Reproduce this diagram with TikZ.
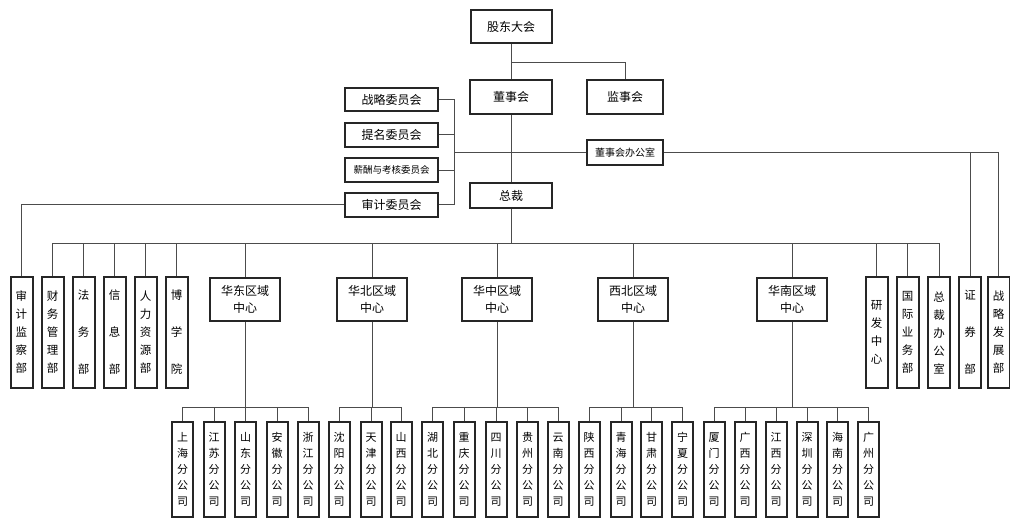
\documentclass[tikz,border=0pt]{standalone}
\usepackage{fontspec}
\newfontfamily\cjk{Noto Sans CJK SC}
\begin{document}
\begin{tikzpicture}[x=1pt,y=-1pt,
  box/.style={draw=black!85,line width=2pt,fill=white,inner sep=0pt,align=center,font=\cjk\fontsize{12}{15}\selectfont},
  vbox/.style={box,minimum width=22pt,minimum height=111pt,font=\cjk\fontsize{11.5}{18}\selectfont},
  vboxw/.style={vbox,font=\cjk\fontsize{11.5}{37}\selectfont},
  bbox/.style={box,minimum width=21pt,minimum height=95pt,font=\cjk\fontsize{11}{16}\selectfont},
  rbox/.style={box,minimum width=70pt,minimum height=43pt,font=\cjk\fontsize{12}{17}\selectfont},
  ln/.style={draw=black!70,line width=0.9pt}]
\useasboundingbox (0,0) rectangle (1010,519);
% top
\node[box,minimum width=81pt,minimum height=33pt] (gd) at (511,27) {股东大会};
\node[box,minimum width=82pt,minimum height=34pt] (dsh) at (511,97) {董事会};
\node[box,minimum width=76pt,minimum height=34pt] (jsh) at (625,97) {监事会};
\node[box,minimum width=93pt,minimum height=23pt] (zl) at (391.5,99.5) {战略委员会};
\node[box,minimum width=93pt,minimum height=24pt] (tm) at (391.5,134.5) {提名委员会};
\node[box,minimum width=93pt,minimum height=24pt,font=\cjk\fontsize{9.5}{12}\selectfont] (xc) at (391.5,170) {薪酬与考核委员会};
\node[box,minimum width=93pt,minimum height=24pt] (sj) at (391.5,204.5) {审计委员会};
\node[box,minimum width=76pt,minimum height=25pt,font=\cjk\fontsize{10}{12}\selectfont] (bgs) at (625,152.5) {董事会办公室};
\node[box,minimum width=82pt,minimum height=25pt] (zc) at (511,195.5) {总裁};
% left departments
\node[vbox] (sjjc) at (21.5,332.5) {审\\计\\监\\察\\部};
\node[vbox] (cw) at (52.5,332.5) {财\\务\\管\\理\\部};
\node[vboxw] (fw) at (83.5,332.5) {法\\务\\部};
\node[vboxw] (xx) at (114.5,332.5) {信\\息\\部};
\node[vbox] (rl) at (145.5,332.5) {人\\力\\资\\源\\部};
\node[vboxw] (bx) at (176.5,332.5) {博\\学\\院};
% regions
\node[rbox] (hd) at (245,299.5) {华东区域\\中心};
\node[rbox] (hb) at (372,299.5) {华北区域\\中心};
\node[rbox] (hz) at (497,299.5) {华中区域\\中心};
\node[rbox] (xb) at (633,299.5) {西北区域\\中心};
\node[rbox] (hn) at (792,299.5) {华南区域\\中心};
% right departments
\node[vbox] (yf) at (876.5,332.5) {研\\发\\中\\心};
\node[vbox] (gj) at (907.5,332.5) {国\\际\\业\\务\\部};
\node[vbox] (zb) at (939,332.5) {总\\裁\\办\\公\\室};
\node[vboxw] (zq) at (970,332.5) {证\\券\\部};
\node[vbox] (zf) at (998.5,332.5) {战\\略\\发\\展\\部};
% branches
\node[bbox] (b1) at (182.5,469.5) {上\\海\\分\\公\\司};
\node[bbox] (b2) at (214,469.5) {江\\苏\\分\\公\\司};
\node[bbox] (b3) at (245.5,469.5) {山\\东\\分\\公\\司};
\node[bbox] (b4) at (277,469.5) {安\\徽\\分\\公\\司};
\node[bbox] (b5) at (308,469.5) {浙\\江\\分\\公\\司};
\node[bbox] (b6) at (339,469.5) {沈\\阳\\分\\公\\司};
\node[bbox] (b7) at (371,469.5) {天\\津\\分\\公\\司};
\node[bbox] (b8) at (401,469.5) {山\\西\\分\\公\\司};
\node[bbox] (b9) at (432.5,469.5) {湖\\北\\分\\公\\司};
\node[bbox] (b10) at (464,469.5) {重\\庆\\分\\公\\司};
\node[bbox] (b11) at (496,469.5) {四\\川\\分\\公\\司};
\node[bbox] (b12) at (527.5,469.5) {贵\\州\\分\\公\\司};
\node[bbox] (b13) at (558,469.5) {云\\南\\分\\公\\司};
\node[bbox] (b14) at (589,469.5) {陕\\西\\分\\公\\司};
\node[bbox] (b15) at (621,469.5) {青\\海\\分\\公\\司};
\node[bbox] (b16) at (651.5,469.5) {甘\\肃\\分\\公\\司};
\node[bbox] (b17) at (682.5,469.5) {宁\\夏\\分\\公\\司};
\node[bbox] (b18) at (714,469.5) {厦\\门\\分\\公\\司};
\node[bbox] (b19) at (745,469.5) {广\\西\\分\\公\\司};
\node[bbox] (b20) at (776,469.5) {江\\西\\分\\公\\司};
\node[bbox] (b21) at (807,469.5) {深\\圳\\分\\公\\司};
\node[bbox] (b22) at (837.5,469.5) {海\\南\\分\\公\\司};
\node[bbox] (b23) at (868.5,469.5) {广\\州\\分\\公\\司};
% coordinates
\coordinate (j1) at (511,62);
\coordinate (bk) at (454,0);
\coordinate (bus) at (0,243);
\coordinate (rb) at (0,407);
% connectors top
\draw[ln] (gd.south) -- (dsh.north);
\draw[ln] (j1) -| (jsh.north);
\draw[ln] (dsh.south) -- (zc.north);
\draw[ln] (zl.east) -| (bk |- sj.east) -- (sj.east);
\draw[ln] (tm.east) -- (bk |- tm.east);
\draw[ln] (xc.east) -- (bk |- xc.east);
\draw[ln] (bk |- bgs.west) -- (bgs.west);
\draw[ln] (bgs.east) -| (zf.north);
\draw[ln] (zq.north) -- (zq.north |- bgs.east);
\draw[ln] (sj.west) -| (sjjc.north);
% president bus
\draw[ln] (zc.south) -- (zc.south |- bus);
\draw[ln] (cw.north |- bus) -- (zb.north |- bus);
\foreach \n in {cw,fw,xx,rl,bx,hd,hb,hz,xb,hn,yf,gj,zb}
  \draw[ln] (\n.north) -- (\n.north |- bus);
% regional buses
\foreach \r/\a/\z in {hd/b1/b5,hb/b6/b8,hz/b9/b13,xb/b14/b17,hn/b18/b23}{
  \draw[ln] (\r.south) -- (\r.south |- rb);
  \draw[ln] (\a.north |- rb) -- (\z.north |- rb);
}
\foreach \n in {1,...,23}
  \draw[ln] (b\n.north) -- (b\n.north |- rb);
\end{tikzpicture}
\end{document}
